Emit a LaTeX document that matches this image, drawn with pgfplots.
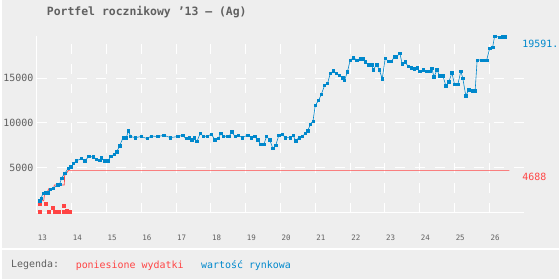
\documentclass[border=0pt]{standalone}
\usepackage{pgfplots}
\pgfplotsset{compat=1.18}
\usepackage{fontspec}
\setmainfont{DejaVu Sans Mono}
\definecolor{bg}{HTML}{EEEEEE}
\definecolor{blu}{HTML}{0088CC}
\definecolor{rd}{HTML}{FF4444}
\definecolor{txt}{HTML}{606060}
\pgfplotstableread{
x y
13.086 1300
13.123 1600
13.186 2150
13.237 2170
13.314 2200
13.380 2610
13.477 2720
13.600 3060
13.657 3150
13.714 3830
13.809 4390
13.906 4910
13.980 5090
14.057 5500
14.143 5760
14.286 6020
14.380 5760
14.494 6240
14.620 6200
14.714 5940
14.809 5830
14.857 6090
14.951 5760
15.049 5760
15.123 6240
15.220 6470
15.294 6760
15.380 7420
15.477 8350
15.571 8350
15.637 9130
15.694 8470
15.829 8350
16.000 8470
16.171 8240
16.286 8530
16.477 8470
16.649 8610
16.837 8350
17.049 8470
17.191 8610
17.286 8240
17.380 8350
17.449 8090
17.523 8350
17.600 7910
17.694 8830
17.791 8470
17.906 8530
18.020 8720
18.114 8090
18.209 8240
18.286 8800
18.363 8470
18.477 8530
18.523 8470
18.600 9020
18.694 8470
18.791 8610
18.906 8350
19.066 8640
19.163 8350
19.257 8470
19.351 8090
19.429 7610
19.523 7610
19.600 8470
19.694 8090
19.780 7130
19.866 7500
19.951 8610
20.049 8720
20.143 8350
20.286 8350
20.363 8610
20.437 7980
20.534 8350
20.629 8470
20.706 8800
20.780 9090
20.857 9830
20.934 10200
21.000 11980
21.094 12500
21.171 13170
21.266 14170
21.351 14390
21.429 15500
21.523 15830
21.600 15500
21.694 15280
21.791 15020
21.837 14720
21.923 15690
22.000 16980
22.094 17280
22.191 17020
22.286 17170
22.363 17170
22.437 16800
22.523 16500
22.620 16500
22.666 15940
22.763 16500
22.837 15940
22.923 14940
23.009 17240
23.094 16870
23.191 16870
23.266 17360
23.334 17360
23.429 17800
23.494 16580
23.580 16800
23.666 16310
23.751 16130
23.849 16020
23.934 16130
24.000 15760
24.094 15910
24.191 15760
24.286 15760
24.351 16060
24.409 15130
24.494 15910
24.571 15240
24.666 15240
24.751 14130
24.837 14580
24.923 15580
25.000 14280
25.094 14280
25.180 15760
25.237 14980
25.323 13020
25.409 13690
25.506 13580
25.591 13580
25.649 17020
25.763 17020
25.857 17020
25.923 17020
26.009 18310
26.094 18470
26.151 19690
26.286 19580
26.371 19591
26.457 19591
}\market
\pgfplotstableread{
x y
13.086 1300
13.200 1300
13.229 2200
13.300 2200
13.343 2650
13.480 2650
13.506 3060
13.790 3060
13.800 4100
13.866 4450
13.914 4688
26.571 4688
}\cost
\pgfplotstableread{
x y
13.094 1000
13.266 1000
13.094 90
13.351 30
13.449 480
13.523 30
13.571 30
13.620 30
13.771 700
13.771 30
13.820 30
13.866 170
13.914 30
13.951 30
}\extra
\begin{document}
\begin{tikzpicture}
\fill[bg] (0pt,0pt) rectangle (560pt,280pt);
\draw[white, line width=2pt] (0pt,30pt) -- (560pt,30pt);
\begin{axis}[
  at={(35pt,66pt)}, anchor=south west, scale only axis,
  width=490pt, height=178pt,
  xmin=13, xmax=27, ymin=-56, ymax=19722,
  clip=false,
  scaled y ticks=false, scaled x ticks=false,
  axis x line*=bottom, axis y line*=left,
  axis line style={white, line width=1pt, -},
  xtick={13,14,15,16,17,18,19,20,21,22,23,24,25,26},
  xticklabels={13,14,15,16,17,18,19,20,21,22,23,24,25,26},
  ytick={5000,10000,15000},
  yticklabels={5000,10000,15000},
  major tick length=0pt,
  grid=major,
  major grid style={white, line width=1pt, dash pattern=on 10pt off 10pt},
  xticklabel style={font=\fontsize{7.5}{9}\selectfont, text=txt, anchor=west, inner xsep=1pt, yshift=-25pt},
  yticklabel style={font=\fontsize{10}{12}\selectfont, text=txt, anchor=east},
]
\addplot[rd, line width=0.7pt] table[x=x,y=y] {\cost};
\addplot[only marks, mark=square*, mark size=1.5pt, rd, mark options={draw=none, fill=rd}] table[x=x,y=y] {\extra};
\addplot[blu, line width=0.6pt, mark=square*, mark size=1.2pt, mark options={draw=none, fill=blu}] table[x=x,y=y] {\market};
\end{axis}
\node[anchor=west, inner sep=0pt, text=txt, font=\fontsize{11.5}{13}\selectfont\bfseries] at (45pt,268pt) {Portfel rocznikowy ’13 – (Ag)};
\node[anchor=west, inner sep=0pt, text=blu, font=\fontsize{10}{12}\selectfont] at (523pt,236pt) {19591.};
\node[anchor=west, inner sep=0pt, text=rd, font=\fontsize{10}{12}\selectfont] at (523pt,102pt) {4688};
\node[anchor=west, inner sep=0pt, text=txt, font=\fontsize{10}{12}\selectfont] at (9pt,13.3pt) {Legenda:};
\node[anchor=west, inner sep=0pt, text=rd, font=\fontsize{10}{12}\selectfont] at (74pt,13.3pt) {poniesione wydatki};
\node[anchor=west, inner sep=0pt, text=blu, font=\fontsize{10}{12}\selectfont] at (200pt,13.3pt) {wartość rynkowa};
\end{tikzpicture}
\end{document}
